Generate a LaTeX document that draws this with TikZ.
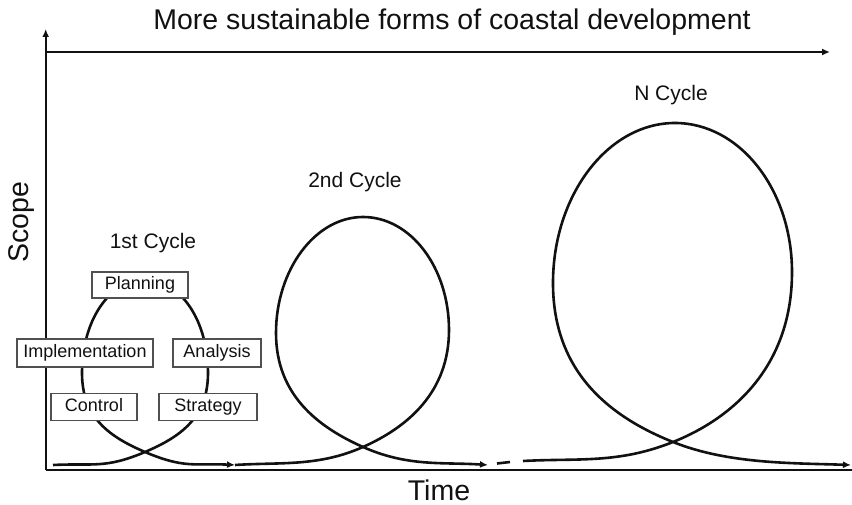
\documentclass[tikz,border=0pt]{standalone}
\usepackage{fontspec}
\setmainfont{Liberation Sans}
\usetikzlibrary{arrows.meta}
\definecolor{ink}{HTML}{111111}
\definecolor{boxline}{HTML}{505050}
\tikzset{
  axis/.style={draw=ink, line width=2.4pt},
  cyc/.style={draw=ink, line width=2.6pt},
  tip/.style={-{Latex[length=8pt,width=7pt]}},
  stagebox/.style={draw=boxline, line width=1.3pt, fill=white, inner sep=0pt,
    text height=13pt, text depth=3.5pt,
    text=ink, font=\fontsize{18}{18}\selectfont},
  biglabel/.style={text=ink, font=\fontsize{28.5}{28.5}\selectfont, inner sep=0pt},
  cyclabel/.style={text=ink, font=\fontsize{21}{21}\selectfont, inner sep=0pt}
}
\begin{document}
\begin{tikzpicture}[x=1pt,y=-1pt]
\useasboundingbox (0,0) rectangle (852,505);
% axes
\coordinate (O) at (45.7,470);
\coordinate (Ytop) at (45.7,29);
\coordinate (Xend) at (852,470);
\coordinate (Tstart) at (45.7,52);
\coordinate (Tend) at (830,52);
\draw[axis, tip] (O) -- (Ytop);
\draw[axis] (O) -- (Xend);
\draw[axis, tip] (Tstart) -- (Tend);
% axis labels
\node[biglabel] (title) at (452,22) {More sustainable forms of coastal development};
\node[biglabel] (time) at (439,490) {Time};
\node[biglabel, rotate=90] (scope) at (22,222) {Scope};
% cycle 1
\coordinate (S1) at (53,465);
\coordinate (C1) at (145,452);
\coordinate (R1) at (208,373);
\coordinate (T1) at (145,280);
\coordinate (L1) at (82,373);
\coordinate (E1) at (235,465);
\draw[cyc, tip] (S1) .. controls +(40,-2) and +(-40,17) .. (C1)
  .. controls +(35,-15) and +(0,45) .. (R1)
  .. controls +(0,-52) and +(36,0) .. (T1)
  .. controls +(-36,0) and +(0,-52) .. (L1)
  .. controls +(0,45) and +(-35,-15) .. (C1)
  .. controls +(40,17) and +(-40,-2) .. (E1);
% cycle 2
\coordinate (C2) at (363,447);
\coordinate (R2) at (449,330);
\coordinate (T2) at (363,217);
\coordinate (L2) at (276,333);
\coordinate (E2) at (488,465);
\draw[cyc, tip] (E1) .. controls +(45,-3) and +(-45,20) .. (C2)
  .. controls +(45,-20) and +(0,62) .. (R2)
  .. controls +(0,-62) and +(48,0) .. (T2)
  .. controls +(-48,0) and +(0,-63) .. (L2)
  .. controls +(0,62) and +(-45,-20) .. (C2)
  .. controls +(45,20) and +(-45,-3) .. (E2);
% gap dash
\coordinate (D1) at (497,463.5);
\coordinate (D2) at (510,462);
\draw[cyc] (D1) -- (D2);
% cycle N
\coordinate (S3) at (523,461);
\coordinate (C3) at (673,442);
\coordinate (R3) at (792,272);
\coordinate (T3) at (675,123);
\coordinate (L3) at (553,283);
\coordinate (E3) at (851,465);
\draw[cyc, tip] (S3) .. controls +(55,-3) and +(-55,22) .. (C3)
  .. controls +(65,-26) and +(0,90) .. (R3)
  .. controls +(0,-82) and +(65,0) .. (T3)
  .. controls +(-67,0) and +(0,-88) .. (L3)
  .. controls +(0,88) and +(-65,-26) .. (C3)
  .. controls +(55,22) and +(-60,-2) .. (E3);
% cycle labels
\node[cyclabel] (l1) at (153,243) {1st Cycle};
\node[cyclabel] (l2) at (355,182) {2nd Cycle};
\node[cyclabel] (l3) at (671,95) {N Cycle};
% stage boxes
\node[stagebox, minimum width=96pt, minimum height=26pt] (plan) at (140,285) {Planning};
\node[stagebox, minimum width=136pt, minimum height=28pt] (impl) at (85,353) {Implementation};
\node[stagebox, minimum width=88pt, minimum height=28pt] (anal) at (217,353) {Analysis};
\node[stagebox, minimum width=86pt, minimum height=27pt] (ctrl) at (94,407) {Control};
\node[stagebox, minimum width=98pt, minimum height=27pt] (strat) at (208,407) {Strategy};
\end{tikzpicture}
\end{document}
